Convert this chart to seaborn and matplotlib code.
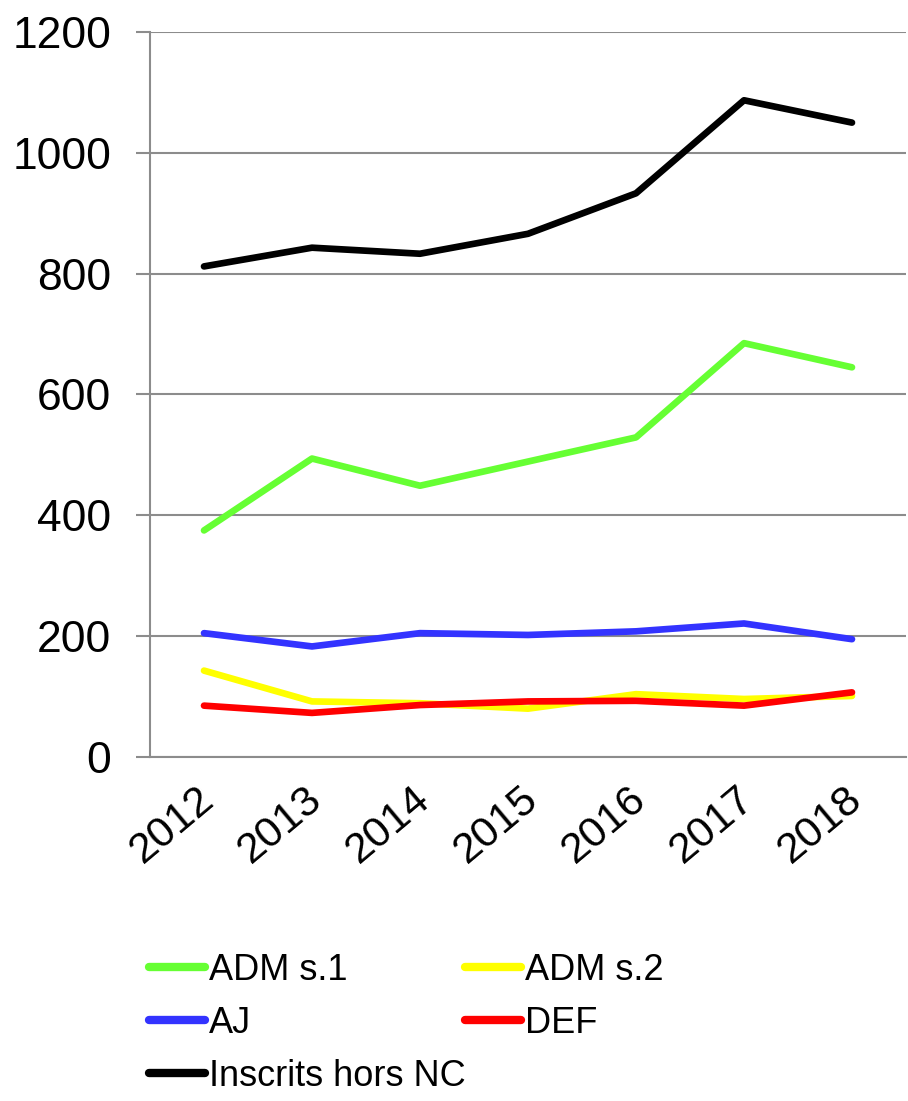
import pandas as pd
import numpy as np
import matplotlib.pyplot as plt
import matplotlib.transforms as mtransforms
import seaborn as sns

years = ["2012", "2013", "2014", "2015", "2016", "2017", "2018"]
adm_s1 = [375, 494, 449, 489, 529, 685, 645]
adm_s2 = [143, 92, 89, 80, 104, 96, 101]
aj = [205, 183, 205, 202, 208, 221, 195]
def_ = [85, 73, 86, 92, 93, 85, 107]
inscrits = [812, 843, 833, 866, 933, 1087, 1050]

series_names = ["ADM s.1", "ADM s.2", "AJ", "DEF", "Inscrits hors NC"]
series_values = [adm_s1, adm_s2, aj, def_, inscrits]
colors = ["#66FF33", "#FFFF00", "#3333FF", "#FF0000", "#000000"]

df = pd.DataFrame({
    "year": years * len(series_names),
    "value": sum(series_values, []),
    "serie": [n for n in series_names for _ in years],
})

sns.set_style("white")
plt.rcParams["font.family"] = ["Liberation Sans", "DejaVu Sans"]
plt.rcParams["text.color"] = "black"

fig = plt.figure(figsize=(9.08, 11.01), dpi=100)
ax = fig.add_axes([150/908, 1-757/1101, 756/908, 725/1101])

sns.lineplot(
    data=df, x="year", y="value", hue="serie",
    hue_order=series_names, palette=colors,
    linewidth=4.8, ax=ax, legend=False, sort=False
)
for line in ax.lines:
    line.set_solid_capstyle("round")

grid_col = "#8c8c8c"
ax.set_xlim(-0.5, 6.5)
ax.set_ylim(0, 1200)
ax.set_yticks(range(0, 1201, 200))
ax.yaxis.grid(True, color=grid_col, linewidth=1.5)
ax.set_axisbelow(True)
ax.set_xticks(range(7))
ax.set_xticklabels(years, rotation=40, ha="right", va="top", rotation_mode="anchor")
ax.set_xticks(np.arange(-0.5, 7, 1), minor=True)
ax.tick_params(axis="x", which="major", length=0, pad=16, labelsize=31, labelcolor="black")
ax.tick_params(axis="x", which="minor", length=10, width=1.5, color=grid_col, direction="out")
ax.tick_params(axis="y", length=10, width=1.5, color=grid_col, pad=18, labelsize=32,
               left=True, labelcolor="black")
offset = mtransforms.ScaledTranslation(-8/100, 0, fig.dpi_scale_trans)
for lab in ax.get_xticklabels():
    lab.set_transform(lab.get_transform() + offset)
ax.set_xlabel("")
ax.set_ylabel("")
for side in ["top", "right"]:
    ax.spines[side].set_visible(False)
for side in ["left", "bottom"]:
    ax.spines[side].set_color(grid_col)
    ax.spines[side].set_linewidth(1.5)

handles = [plt.Line2D([], [], color=c, linewidth=6, solid_capstyle="round") for c in colors]
order = [0, 2, 4, 1, 3]
fig.legend(
    [handles[i] for i in order], [series_names[i] for i in order],
    loc="upper left", bbox_to_anchor=(149/908, 1-953/1101), ncol=2,
    frameon=False, fontsize=26, handlelength=1.55, handletextpad=0.1,
    columnspacing=0.0, labelspacing=0.5, borderpad=0, borderaxespad=0
)

fig.savefig("out.png", dpi=100)
